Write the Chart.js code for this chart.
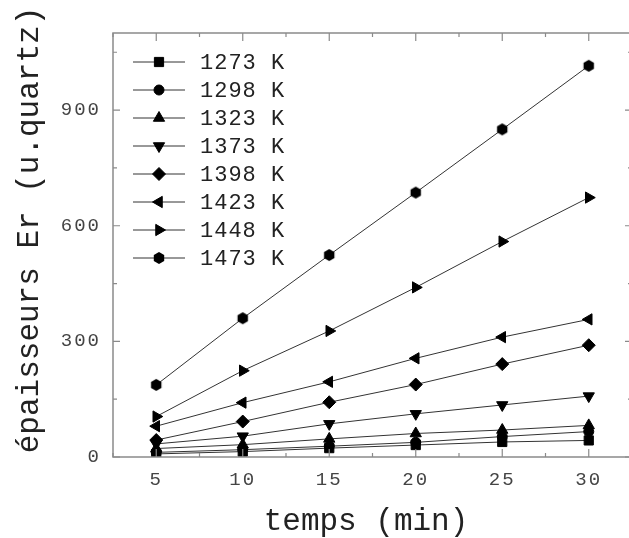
<!DOCTYPE html>
<html>
<head>
<meta charset="utf-8">
<script src="https://cdn.jsdelivr.net/npm/chart.js@4/dist/chart.umd.min.js"></script>
<style>
  html, body { margin: 0; padding: 0; background: #fff; overflow: hidden; }
  #wrap { width: 629px; height: 538px; overflow: hidden; }
</style>
</head>
<body>
<div id="wrap"><canvas id="chart" width="640" height="538"></canvas></div>
<script>
// Data
const times = [5, 10, 15, 20, 25, 30];
const temperatures = ['1273 K', '1298 K', '1323 K', '1373 K', '1398 K', '1423 K', '1448 K', '1473 K'];
const k1273 = [8, 14, 23, 31, 39, 43];
const k1298 = [12, 19, 28, 38, 53, 66];
const k1323 = [22, 32, 47, 61, 70, 82];
const k1373 = [34, 54, 86, 112, 135, 158];
const k1398 = [44, 92, 142, 188, 241, 290];
const k1423 = [80, 141, 195, 256, 311, 357];
const k1448 = [105, 224, 327, 440, 559, 673];
const k1473 = [187, 360, 524, 686, 850, 1015];
const xTicks = [5, 10, 15, 20, 25, 30];
const xMinor = [2.5, 7.5, 12.5, 17.5, 22.5, 27.5, 32.5];
const yTicks = [0, 300, 600, 900];
const yMinor = [150, 450, 750, 1050];

const MONO = '"Liberation Mono", "DejaVu Sans Mono", monospace';

// hexagon marker (no built-in style for it)
function hexagon(r) {
  const c = document.createElement('canvas');
  c.width = c.height = r * 2 + 2;
  const g = c.getContext('2d');
  g.fillStyle = '#000';
  g.beginPath();
  for (let i = 0; i < 6; i++) {
    const a = Math.PI / 3 * i;
    const px = r + 1 + Math.sin(a) * r;
    const py = r + 1 - Math.cos(a) * r;
    if (i === 0) g.moveTo(px, py); else g.lineTo(px, py);
  }
  g.closePath();
  g.fill();
  return c;
}

const series = [k1273, k1298, k1323, k1373, k1398, k1423, k1448, k1473];
const markers = [
  { style: 'rect', radius: 6.5, rotation: 0 },
  { style: 'circle', radius: 5, rotation: 0 },
  { style: 'triangle', radius: 6.5, rotation: 0 },
  { style: 'triangle', radius: 6.5, rotation: 180 },
  { style: 'rectRot', radius: 6.5, rotation: 0 },
  { style: 'triangle', radius: 6.5, rotation: 270 },
  { style: 'triangle', radius: 6.5, rotation: 90 },
  { style: hexagon(6), radius: 6, rotation: 0 }
];

const datasets = series.map((vals, i) => ({
  label: temperatures[i],
  data: times.map((t, j) => ({ x: t, y: vals[j] })),
  borderColor: '#333',
  borderWidth: 1,
  backgroundColor: '#000',
  pointBackgroundColor: '#000',
  pointBorderColor: '#000',
  pointBorderWidth: 1,
  pointStyle: markers[i].style,
  pointRadius: markers[i].radius,
  pointRotation: markers[i].rotation,
  tension: 0
}));

// frame, inward ticks, legend and axis titles
const decorations = {
  id: 'decorations',
  beforeDraw(chart) {
    chart.ctx.letterSpacing = '2px';
  },
  afterDraw(chart) {
    const ctx = chart.ctx;
    const a = chart.chartArea;
    const xs = chart.scales.x, ys = chart.scales.y;
    ctx.save();
    ctx.letterSpacing = '0px';
    ctx.strokeStyle = '#8a8a8a';
    ctx.lineWidth = 1.5;
    ctx.strokeRect(a.left, a.top, a.right - a.left, a.bottom - a.top);

    ctx.lineWidth = 1.2;
    ctx.beginPath();
    xTicks.forEach(v => {
      const p = xs.getPixelForValue(v);
      ctx.moveTo(p, a.bottom); ctx.lineTo(p, a.bottom - 8);
      ctx.moveTo(p, a.top); ctx.lineTo(p, a.top + 8);
    });
    xMinor.forEach(v => {
      const p = xs.getPixelForValue(v);
      ctx.moveTo(p, a.bottom); ctx.lineTo(p, a.bottom - 4);
      ctx.moveTo(p, a.top); ctx.lineTo(p, a.top + 4);
    });
    yTicks.forEach(v => {
      const p = ys.getPixelForValue(v);
      ctx.moveTo(a.left, p); ctx.lineTo(a.left + 7, p);
      ctx.moveTo(a.right, p); ctx.lineTo(a.right - 7, p);
    });
    yMinor.forEach(v => {
      const p = ys.getPixelForValue(v);
      ctx.moveTo(a.left, p); ctx.lineTo(a.left + 4, p);
      ctx.moveTo(a.right, p); ctx.lineTo(a.right - 4, p);
    });
    ctx.stroke();

    // legend: line - marker - line, then label
    ctx.font = '22px ' + MONO;
    ctx.textBaseline = 'middle';
    ctx.textAlign = 'left';
    chart.data.datasets.forEach((ds, i) => {
      const y = 62 + i * 28;
      ctx.strokeStyle = '#333';
      ctx.lineWidth = 1;
      ctx.beginPath();
      ctx.moveTo(133, y); ctx.lineTo(185, y);
      ctx.stroke();
      ctx.fillStyle = '#000';
      ctx.strokeStyle = '#000';
      Chart.helpers.drawPoint(ctx, {
        pointStyle: ds.pointStyle,
        radius: ds.pointRadius,
        rotation: ds.pointRotation,
        borderWidth: 1
      }, 159, y);
      ctx.fillStyle = '#222';
      ctx.letterSpacing = '1px';
      ctx.fillText(ds.label, 200, y + 1);
      ctx.letterSpacing = '0px';
    });

    // axis titles
    ctx.fillStyle = '#222';
    ctx.font = '31px ' + MONO;
    ctx.textAlign = 'center';
    ctx.textBaseline = 'alphabetic';
    ctx.fillText('temps (min)', 366, 530);
    ctx.save();
    ctx.translate(38, 230);
    ctx.rotate(-Math.PI / 2);
    ctx.fillText('épaisseurs Er (u.quartz)', 0, 0);
    ctx.restore();
    ctx.restore();
  }
};

new Chart(document.getElementById('chart'), {
  type: 'line',
  data: { datasets: datasets },
  options: {
    responsive: false,
    animation: false,
    layout: { padding: { top: 33, right: 8, left: 0, bottom: 0 } },
    plugins: { legend: { display: false }, tooltip: { enabled: false } },
    scales: {
      x: {
        type: 'linear',
        min: 2.5,
        max: 32.5,
        afterBuildTicks: s => { s.ticks = xTicks.map(v => ({ value: v })); },
        afterFit: s => { s.height = 81; },
        grid: { display: false, drawTicks: false },
        border: { display: false },
        ticks: { color: '#444', padding: 12, font: { family: MONO, size: 19 } }
      },
      y: {
        min: 0,
        max: 1100,
        afterBuildTicks: s => { s.ticks = yTicks.map(v => ({ value: v })); },
        afterFit: s => { s.width = 113; },
        grid: { display: false, drawTicks: false },
        border: { display: false },
        ticks: { color: '#444', padding: 12, font: { family: MONO, size: 19 } }
      }
    }
  },
  plugins: [decorations]
});
</script>
</body>
</html>
